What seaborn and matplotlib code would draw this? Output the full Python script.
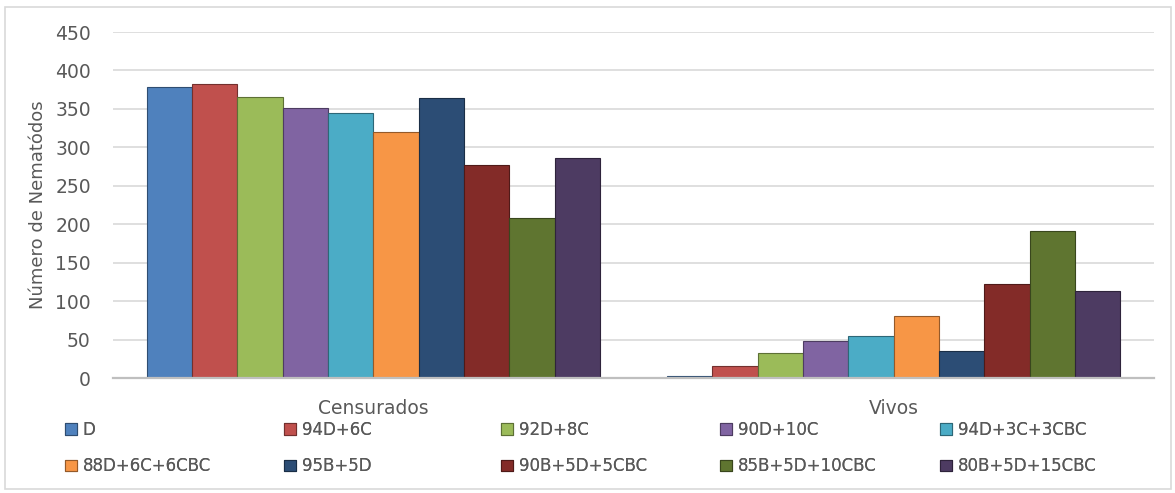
import numpy as np
import pandas as pd
import matplotlib
matplotlib.use("Agg")
import matplotlib.pyplot as plt
import matplotlib.colors as mcolors
from matplotlib.patches import Rectangle
import seaborn as sns

# ---- datos ----
estados = ["Censurados", "Vivos"]
tratamientos = ["D", "94D+6C", "92D+8C", "90D+10C", "94D+3C+3CBC",
                "88D+6C+6CBC", "95B+5D", "90B+5D+5CBC", "85B+5D+10CBC",
                "80B+5D+15CBC"]
censurados = [379, 383, 366, 351, 345, 320, 364, 277, 208, 286]
vivos = [2, 16, 33, 48, 55, 81, 35, 122, 191, 113]
colores = ["#4F81BD", "#C0504D", "#9BBB59", "#8064A2", "#4BACC6",
           "#F79646", "#2C4D75", "#832B28", "#5F7530", "#4D3B62"]

df = pd.DataFrame({
    "estado": ["Censurados"] * len(tratamientos) + ["Vivos"] * len(tratamientos),
    "tratamiento": tratamientos * 2,
    "n": censurados + vivos,
})

sns.set_style("white")
plt.rcParams["font.family"] = ["DejaVu Sans"]
GRIS = "#595959"

fig = plt.figure(figsize=(11.75, 4.93), dpi=100)
ax = fig.add_axes([113 / 1175, 1 - 378 / 493, (1154 - 113) / 1175, (378 - 32) / 493])

sns.barplot(data=df, x="estado", y="n", hue="tratamiento", order=estados,
            hue_order=tratamientos, palette=colores, saturation=1,
            width=0.871, errorbar=None, legend=True, ax=ax)

# bordes algo mas oscuros en cada barra
for p in ax.patches:
    fc = np.array(mcolors.to_rgb(p.get_facecolor()))
    p.set_edgecolor(tuple(fc * 0.6))
    p.set_linewidth(0.8)

ax.set_ylim(0, 450)
ax.set_yticks(np.arange(0, 451, 50))
ax.set_xlim(-0.5, 1.5)
ax.yaxis.grid(True, color="#D9D9D9", linewidth=1.2)
ax.set_axisbelow(True)
for s in ["left", "top", "right"]:
    ax.spines[s].set_visible(False)
ax.spines["bottom"].set_color("#BFBFBF")
ax.spines["bottom"].set_linewidth(1.6)
ax.tick_params(axis="both", length=0, colors=GRIS)
ax.tick_params(axis="y", pad=16, labelsize=13.5)
ax.tick_params(axis="x", pad=15, labelsize=13.5)
ax.set_xlabel("")
ax.set_ylabel("Número de Nematódos", fontsize=13, color=GRIS, labelpad=6)

# leyenda: 5 columnas, 2 filas
handles, labels = ax.get_legend_handles_labels()
ax.get_legend().remove()
col_x = [65, 284, 501, 720, 940]
for k, x0 in enumerate(col_x):
    leg = fig.legend([handles[k], handles[k + 5]], [labels[k], labels[k + 5]],
                     loc="upper left", bbox_to_anchor=(x0 / 1175, 1 - 421 / 493),
                     frameon=False, fontsize=12, handlelength=0.72,
                     handleheight=0.72, handletextpad=0.35, labelspacing=1.1,
                     borderpad=0, borderaxespad=0)
    for t in leg.get_texts():
        t.set_color(GRIS)
    fig.add_artist(leg)

# marco del grafico
fig.add_artist(Rectangle((5 / 1175, 4 / 493), 1166 / 1175, 482 / 493,
                         transform=fig.transFigure, fill=False,
                         edgecolor="#D9D9D9", linewidth=1.2))

plt.savefig("out.png", dpi=100)
plt.close()
